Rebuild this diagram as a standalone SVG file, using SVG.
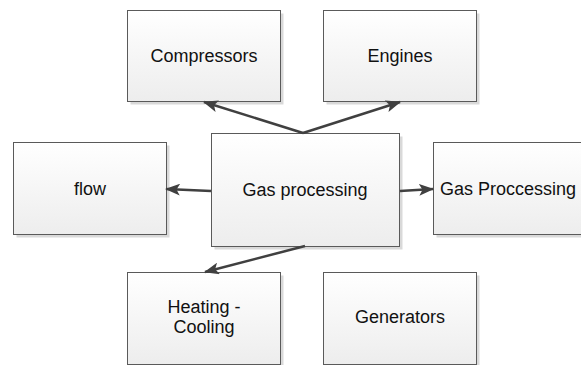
<svg xmlns="http://www.w3.org/2000/svg" width="581" height="365" viewBox="0 0 581 365">
<defs>
<linearGradient id="g" x1="0" y1="0" x2="0" y2="1">
<stop offset="0" stop-color="#ffffff"/>
<stop offset="1" stop-color="#ededed"/>
</linearGradient>
<marker id="ah" viewBox="0 0 15 12" refX="14" refY="6" markerWidth="15" markerHeight="12" markerUnits="userSpaceOnUse" orient="auto">
<path d="M0,0 L15,6 L0,12 L3.5,6 Z" fill="#404040"/>
</marker>
<style>
.sh{fill:#d9d9d9}
.bx{fill:url(#g);stroke:#5a5a5a;stroke-width:1}
.t{font-family:"Liberation Sans",Arial,sans-serif;font-size:18px;fill:#111;text-anchor:middle}
.c{fill:none;stroke:#404040;stroke-width:2.5;marker-end:url(#ah)}
</style>
</defs>
<rect width="581" height="365" fill="#ffffff"/>
<g id="compressors">
<rect class="sh" x="130.5" y="13.5" width="153" height="91"/>
<rect class="bx" x="127.5" y="10.5" width="153" height="91"/>
<text class="t" x="204" y="62">Compressors</text>
</g>
<g id="engines">
<rect class="sh" x="326.5" y="13.5" width="153" height="91"/>
<rect class="bx" x="323.5" y="10.5" width="153" height="91"/>
<text class="t" x="400" y="62">Engines</text>
</g>
<g id="flow">
<rect class="sh" x="16.5" y="145.5" width="153" height="92"/>
<rect class="bx" x="13.5" y="142.5" width="153" height="92"/>
<text class="t" x="90" y="195">flow</text>
</g>
<g id="gas-processing">
<rect class="sh" x="214.5" y="136.5" width="188" height="113"/>
<rect class="bx" x="211.5" y="133.5" width="188" height="113"/>
<text class="t" x="305" y="196">Gas processing</text>
</g>
<g id="gas-proccessing">
<rect class="sh" x="436.5" y="145.5" width="160" height="92"/>
<rect class="bx" x="433.5" y="142.5" width="160" height="92"/>
<text class="t" x="508" y="195">Gas Proccessing</text>
</g>
<g id="heating-cooling">
<rect class="sh" x="130.5" y="275.5" width="153" height="92"/>
<rect class="bx" x="127.5" y="272.5" width="153" height="92"/>
<text class="t" x="204" y="313">Heating -</text>
<text class="t" x="204" y="333">Cooling</text>
</g>
<g id="generators">
<rect class="sh" x="326.5" y="275.5" width="153" height="92"/>
<rect class="bx" x="323.5" y="272.5" width="153" height="92"/>
<text class="t" x="400" y="323">Generators</text>
</g>
<g id="connectors">
<path class="c" d="M303,133 L204,102"/>
<path class="c" d="M303,133 L400,102"/>
<path class="c" d="M211,191 L166,189"/>
<path class="c" d="M400,191 L433,189"/>
<path class="c" d="M305,246 L205,272"/>
</g>
</svg>
